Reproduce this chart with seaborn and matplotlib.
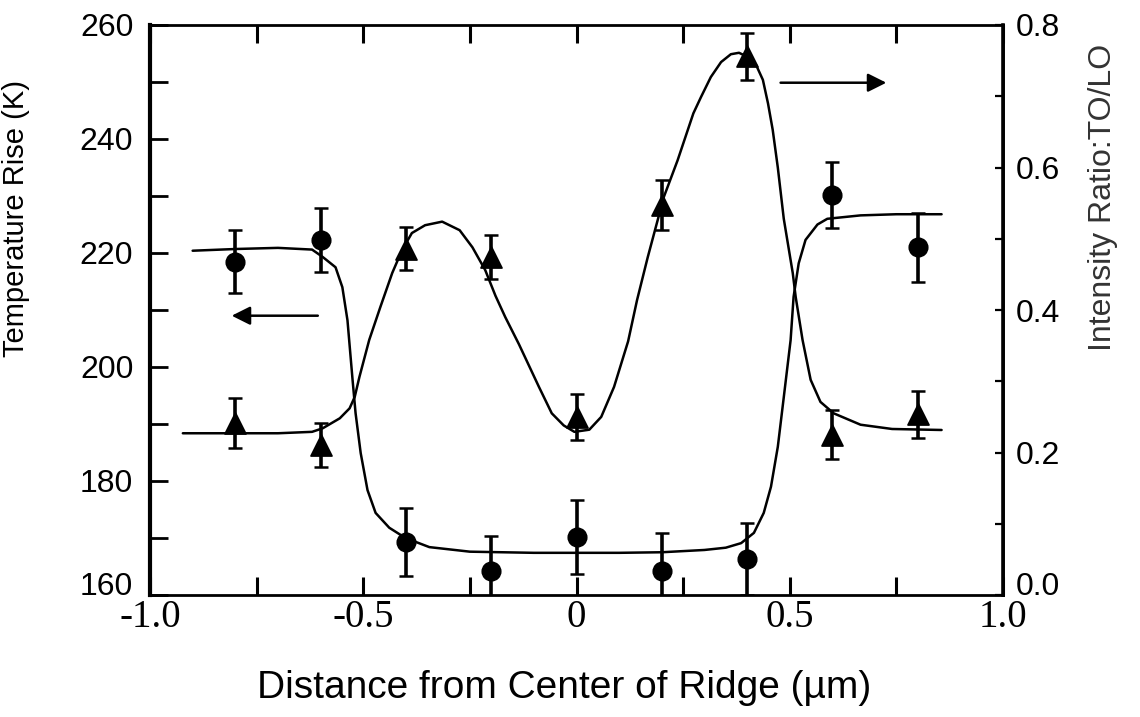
import numpy as np
import pandas as pd
import seaborn as sns
import matplotlib
matplotlib.use("Agg")
import matplotlib.pyplot as plt
from matplotlib import font_manager
from matplotlib.ticker import MultipleLocator, FixedLocator
from matplotlib.transforms import ScaledTranslation

# Measured points: position across the ridge (um)
positions = [-0.8, -0.6, -0.4, -0.2, 0.0, 0.2, 0.4, 0.6, 0.8]

# Temperature rise (K), left axis
temperature = [218.5, 222.3, 169.3, 164.2, 170.2, 164.2, 166.3, 230.2, 221.0]
temperature_err = [5.5, 5.6, 6.0, 6.2, 6.5, 6.6, 6.3, 5.8, 6.0]

# TO/LO intensity ratio, right axis
ratio = [0.242, 0.211, 0.486, 0.474, 0.250, 0.547, 0.756, 0.225, 0.254]
ratio_err = [0.035, 0.031, 0.030, 0.031, 0.032, 0.035, 0.033, 0.034, 0.033]

# Guide-to-the-eye curve through the temperature data
temp_curve_x = [-0.90, -0.80, -0.70, -0.62, -0.595, -0.565, -0.549, -0.537, -0.525,
                -0.518, -0.506, -0.49, -0.471, -0.439, -0.401, -0.345, -0.25, -0.10,
                0.0, 0.10, 0.20, 0.30, 0.35, 0.386, 0.416, 0.439, 0.456, 0.472,
                0.486, 0.502, 0.509, 0.521, 0.537, 0.565, 0.588, 0.666, 0.75, 0.856]
temp_curve_y = [220.4, 220.7, 220.9, 220.6, 219.3, 217.5, 214.0, 208.2, 197.7,
                191.9, 184.9, 178.4, 174.4, 171.8, 170.0, 168.4, 167.6, 167.4,
                167.4, 167.4, 167.5, 167.9, 168.3, 169.1, 170.9, 174.4, 179.0, 186.0,
                194.7, 204.7, 212.3, 218.2, 222.3, 225.0, 226.0, 226.6, 226.8, 226.8]

# Guide-to-the-eye curve through the intensity-ratio data
ratio_curve_x = [-0.923, -0.80, -0.70, -0.62, -0.595, -0.555, -0.532, -0.52, -0.509,
                 -0.486, -0.46, -0.432, -0.409, -0.386, -0.355, -0.315, -0.274,
                 -0.244, -0.214, -0.19, -0.167, -0.135, -0.088, -0.058, -0.03,
                 -0.005, 0.03, 0.058, 0.088, 0.121, 0.142, 0.167, 0.205, 0.237,
                 0.274, 0.292, 0.315, 0.339, 0.362, 0.381, 0.402, 0.421, 0.437,
                 0.449, 0.46, 0.472, 0.486, 0.507, 0.514, 0.53, 0.549, 0.572,
                 0.603, 0.666, 0.74, 0.856]
ratio_curve_y = [0.227, 0.227, 0.227, 0.229, 0.234, 0.248, 0.262, 0.278, 0.306,
                 0.358, 0.404, 0.452, 0.484, 0.508, 0.519, 0.524, 0.512,
                 0.488, 0.456, 0.420, 0.390, 0.352, 0.292, 0.255, 0.238,
                 0.229, 0.232, 0.250, 0.292, 0.356, 0.414, 0.474, 0.559, 0.610,
                 0.676, 0.699, 0.727, 0.748, 0.759, 0.761, 0.755, 0.744, 0.723,
                 0.690, 0.653, 0.600, 0.528, 0.452, 0.418, 0.358, 0.302, 0.271,
                 0.255, 0.239, 0.233, 0.2316]

# Direction arrows: (tail x, head x, level)
temp_arrow = (-0.60, -0.815, 209.0)
ratio_arrow = (0.472, 0.733, 0.719)

x_ticks = [-1.0, -0.5, 0.0, 0.5, 1.0]
x_ticklabels = ["-1.0", "-0.5", "0", "0.5", "1.0"]
temp_ticks = [160, 180, 200, 220, 240, 260]
ratio_ticks = [0.0, 0.2, 0.4, 0.6, 0.8]

sns.set_style("white")
plt.rcParams["axes.unicode_minus"] = False
plt.rcParams["font.family"] = ["Liberation Sans", "DejaVu Sans"]

available = {f.name for f in font_manager.fontManager.ttflist}
narrow = "Liberation Sans Narrow" if "Liberation Sans Narrow" in available else "Liberation Sans"

fig = plt.figure(figsize=(11.4, 7.17), dpi=100)
ax = fig.add_axes([150 / 1140, 1 - 595 / 717, (1003 - 150) / 1140, (595 - 25) / 717])
ax2 = ax.twinx()

ink = "black"

# temperature: curve, error bars, circles
temp_curve = pd.DataFrame({"x": temp_curve_x, "y": temp_curve_y})
sns.lineplot(data=temp_curve, x="x", y="y", ax=ax, color=ink, linewidth=1.8,
             sort=False, estimator=None)
ax.errorbar(positions, temperature, yerr=temperature_err, fmt="none",
            ecolor=ink, elinewidth=2.6, capsize=4.7, capthick=1.8)
sns.scatterplot(x=positions, y=temperature, ax=ax, marker="o", s=180,
                color=ink, edgecolor=ink, zorder=5)

# intensity ratio: curve, error bars, triangles
ratio_curve = pd.DataFrame({"x": ratio_curve_x, "y": ratio_curve_y})
sns.lineplot(data=ratio_curve, x="x", y="y", ax=ax2, color=ink, linewidth=1.8,
             sort=False, estimator=None)
ax2.errorbar(positions, ratio, yerr=ratio_err, fmt="none",
             ecolor=ink, elinewidth=2.6, capsize=4.7, capthick=1.8)
sns.scatterplot(x=positions, y=ratio, ax=ax2, marker="^", s=230,
                color=ink, edgecolor=ink, zorder=5)

# arrows telling which axis each data set belongs to
ax.annotate("", xy=(temp_arrow[1], temp_arrow[2]), xytext=(temp_arrow[0], temp_arrow[2]),
            arrowprops=dict(arrowstyle="-|>", color=ink, lw=1.8, mutation_scale=28))
ax2.annotate("", xy=(ratio_arrow[1], ratio_arrow[2]), xytext=(ratio_arrow[0], ratio_arrow[2]),
             arrowprops=dict(arrowstyle="-|>", color=ink, lw=1.8, mutation_scale=28))

# axes limits and ticks
ax.set_xlim(-1.0, 1.0)
ax.set_ylim(160, 260)
ax2.set_ylim(0.0, 0.8)

ax.xaxis.set_major_locator(FixedLocator(x_ticks))
ax.set_xticklabels(x_ticklabels, family=["Liberation Serif", "DejaVu Serif"])
ax.xaxis.set_minor_locator(MultipleLocator(0.25))
ax.yaxis.set_major_locator(FixedLocator(temp_ticks))
ax.set_yticklabels([str(v) for v in temp_ticks])
ax.yaxis.set_minor_locator(MultipleLocator(10))
ax2.yaxis.set_major_locator(FixedLocator(ratio_ticks))
ax2.set_yticklabels(["%.1f" % v for v in ratio_ticks])
ax2.yaxis.set_minor_locator(MultipleLocator(0.1))

ax.tick_params(axis="x", which="both", direction="in", length=13, width=2.2,
               top=True, bottom=True, labelsize=28, pad=3, colors=ink)
ax.tick_params(axis="y", which="both", direction="in", length=13, width=2.0,
               left=True, right=False, labelsize=23, pad=12, colors=ink)
ax2.tick_params(axis="y", which="both", direction="in", length=6, width=1.6,
                right=True, left=False, labelsize=23, pad=9, colors=ink)

for sp in ax.spines.values():
    sp.set_linewidth(2.0)
    sp.set_color(ink)
ax.spines["left"].set_linewidth(3.0)
for sp in ax2.spines.values():
    sp.set_visible(False)
ax2.spines["right"].set_visible(True)
ax2.spines["right"].set_linewidth(2.6)
ax2.spines["right"].set_color(ink)

ax.set_xlabel("Distance from Center of Ridge (\u00b5m)", fontsize=28, color=ink)
ax.xaxis.set_label_coords(0.485, -0.132)
ax.set_ylabel("Temperature Rise (K)", fontsize=21, color=ink,
              family=[narrow, "DejaVu Sans"])
ax.yaxis.set_label_coords(-0.141, 0.661)
ax2.set_ylabel("Intensity Ratio:TO/LO", fontsize=23, color="#333333",
               family=[narrow, "DejaVu Sans"], fontweight="light", rotation=90)
ax2.yaxis.set_label_coords(1.10, 0.698)

ax.grid(False)
ax2.grid(False)

# the lowest value labels sit just above the bottom edge
fig.canvas.draw()
lift = ScaledTranslation(0, 8 / 72, fig.dpi_scale_trans)
low_left = ax.yaxis.get_major_ticks()[0].label1
low_right = ax2.yaxis.get_major_ticks()[0].label2
for lab in (low_left, low_right):
    lab.set_transform(lab.get_transform() + lift)

fig.savefig("out.png", dpi=100, facecolor="white")
